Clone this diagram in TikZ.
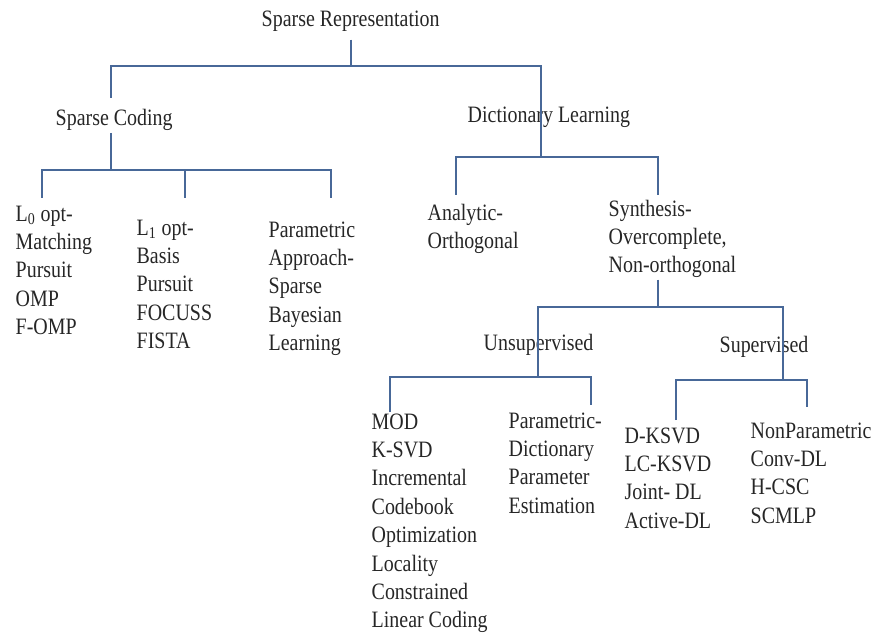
\documentclass[tikz,border=0pt]{standalone}
\usepackage{fontspec}
\setmainfont{Liberation Serif}[FakeStretch=0.85]
\usepackage{tikz}
\usetikzlibrary{positioning}

\definecolor{treeblue}{RGB}{72,104,152}
\newcommand{\treefont}{\fontsize{16.7}{20.2}\selectfont}

\tikzset{
    tree/.style={draw=treeblue, line width=1.1pt},
    lbl/.style={anchor=base west, inner sep=1pt, align=left, font=\treefont, text=black!85}
}

\begin{document}
\begin{tikzpicture}
        \useasboundingbox (0,0) rectangle (22.05,15.925);

        %top level
        \node[lbl] (root) at (6.5,15.25) {Sparse Representation};
        \node[lbl] (sc) at (1.35,12.775) {Sparse Coding};
        \node[lbl] (dl) at (11.65,12.85) {Dictionary Learning};

        \coordinate (rj) at (8.775,14.275);
        \coordinate (scin) at (2.775,13.475);
        \coordinate (dlj) at (13.525,12.0);
        \draw [tree, shorten <=0.15cm] (root.south -| rj)--(rj);
        \draw [tree] (scin) |- (rj) -| (dlj);

        %sparse coding (base = last line)
        \node[lbl] (l0) at (0.35,7.56) {L\textsubscript{0} opt-\\Matching\\Pursuit\\OMP\\F-OMP};
        \node[lbl] (l1) at (3.375,7.21) {L\textsubscript{1} opt-\\Basis\\Pursuit\\FOCUSS\\FISTA};
        \node[lbl] (par) at (6.675,7.16) {Parametric\\Approach-\\Sparse\\Bayesian\\Learning};

        \coordinate (scj) at (2.775,11.675);
        \coordinate (l0in) at (1.05,10.975);
        \coordinate (l1in) at (4.625,10.975);
        \coordinate (parin) at (8.275,10.975);
        \draw [tree] (sc.south -| scj)--(scj);
        \draw [tree] (l0in) |- (scj) -| (parin);
        \draw [tree] (scj -| l1in)--(l1in);

        %dictionary learning
        \node[lbl] (ana) at (10.65,9.715) {Analytic-\\Orthogonal};
        \node[lbl] (syn) at (15.175,9.105) {Synthesis-\\Overcomplete,\\Non-orthogonal};

        \coordinate (anain) at (11.4,11.05);
        \coordinate (synin) at (16.45,11.05);
        \draw [tree] (anain) |- (dlj) -| (synin);

        %synthesis
        \node[lbl] (uns) at (12.05,7.175) {Unsupervised};
        \node[lbl] (sup) at (17.95,7.1) {Supervised};

        \coordinate (synj) at (16.45,8.25);
        \coordinate (unsj) at (13.45,6.5);
        \coordinate (supj) at (19.575,6.425);
        \draw [tree] (syn.south -| synj)--(synj);
        \draw [tree] (unsj) |- (synj) -| (supj);

        %unsupervised
        \node[lbl] (mod) at (9.25,0.23) {MOD\\K-SVD\\Incremental\\Codebook\\Optimization\\Locality\\Constrained\\Linear Coding};
        \node[lbl] (pdict) at (12.675,3.095) {Parametric-\\Dictionary\\Parameter\\Estimation};

        \coordinate (modin) at (9.75,5.625);
        \coordinate (pdin) at (14.775,5.8);
        \draw [tree] (modin) |- (unsj) -| (pdin);

        %supervised
        \node[lbl] (dksvd) at (15.575,2.72) {D-KSVD\\LC-KSVD\\Joint- DL\\Active-DL};
        \node[lbl] (nonp) at (18.725,2.845) {NonParametric\\Conv-DL\\H-CSC\\SCMLP};

        \coordinate (dkin) at (16.9,5.425);
        \coordinate (npin) at (20.175,5.75);
        \draw [tree] (dkin) |- (supj) -| (npin);
\end{tikzpicture}
\end{document}
